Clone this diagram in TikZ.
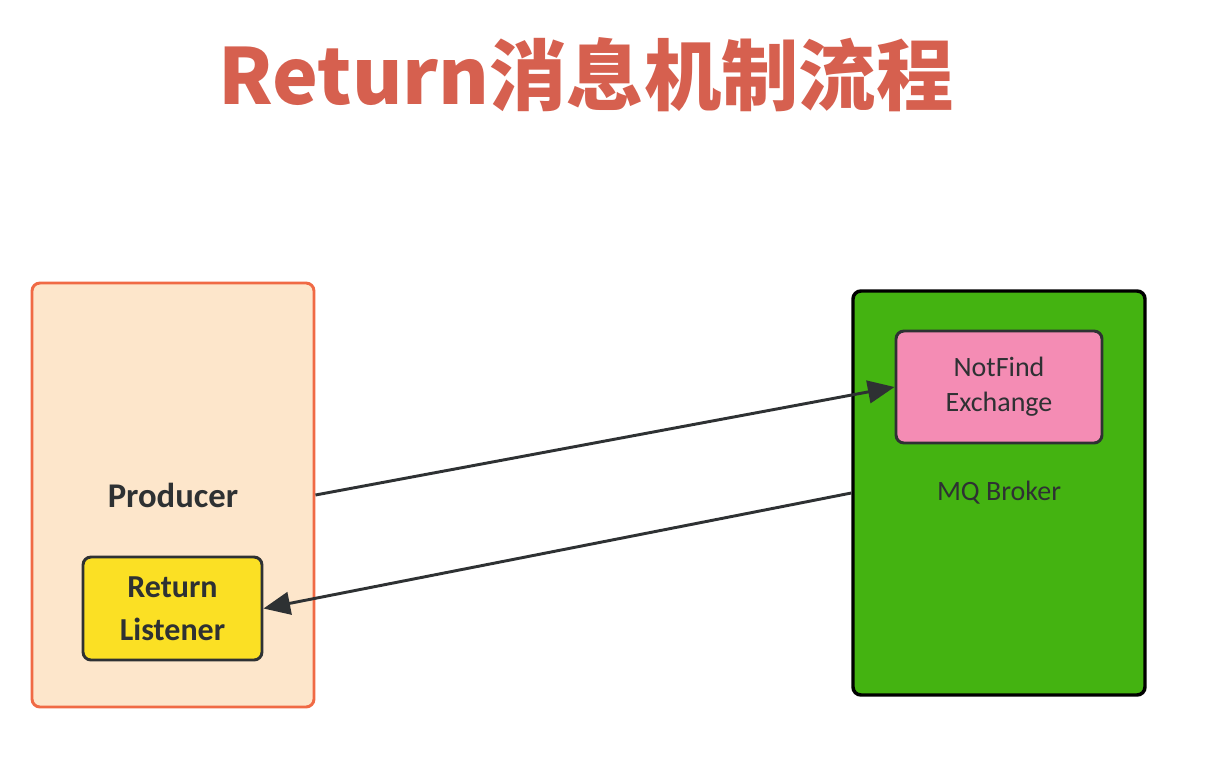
\documentclass[tikz,border=0pt]{standalone}
\usepackage{fontspec}
\setmainfont{Carlito}
\newfontfamily\cjk{Noto Sans CJK SC}
\usetikzlibrary{arrows.meta}

\definecolor{titlered}{HTML}{D6604F}
\definecolor{peach}{HTML}{FDE6CB}
\definecolor{peachline}{HTML}{F06A45}
\definecolor{lemon}{HTML}{FBE024}
\definecolor{brokergreen}{HTML}{44B311}
\definecolor{pink}{HTML}{F48CB4}
\definecolor{ink}{HTML}{2E3133}

\begin{document}
\begin{tikzpicture}[x=0.75pt, y=-0.75pt,
    box/.style={draw, rounded corners=6pt, line width=2.2pt, align=center, inner sep=0pt},
    flow/.style={draw=ink, line width=2.2pt, -{Triangle[length=20pt,width=17pt]}}]

    % page
    \useasboundingbox[fill=white] (0,0) rectangle (1213,760);

    % title
    \node[titlered, font=\cjk\bfseries\fontsize{58}{64}\selectfont] (title) at (586,75) {Return消息机制流程};

    % Producer side
    \node[box, fill=peach, draw=peachline, minimum width=211.5pt, minimum height=318pt,
          font=\bfseries\fontsize{26}{30}\selectfont, text=ink] (producer) at (173,495) {Producer};
    \node[box, fill=lemon, draw=ink, minimum width=134.25pt, minimum height=77.25pt,
          font=\bfseries\fontsize{24}{32}\selectfont, text=ink] (listener) at (172.5,608.5) {Return\\Listener};

    % Broker side
    \node[box, fill=brokergreen, draw=black, line width=2.6pt, minimum width=219pt, minimum height=303pt,
          font=\fontsize{21}{26}\selectfont, text=ink] (broker) at (999,493) {MQ Broker};
    \node[box, fill=pink, draw=ink, minimum width=154.5pt, minimum height=84pt,
          font=\fontsize{21}{26}\selectfont, text=ink] (notfind) at (999,387) {NotFind\\Exchange};

    % messages
    \draw[flow] (producer.east) -- (notfind.west);
    \draw[flow] (broker.west) -- (listener.east);
\end{tikzpicture}
\end{document}
